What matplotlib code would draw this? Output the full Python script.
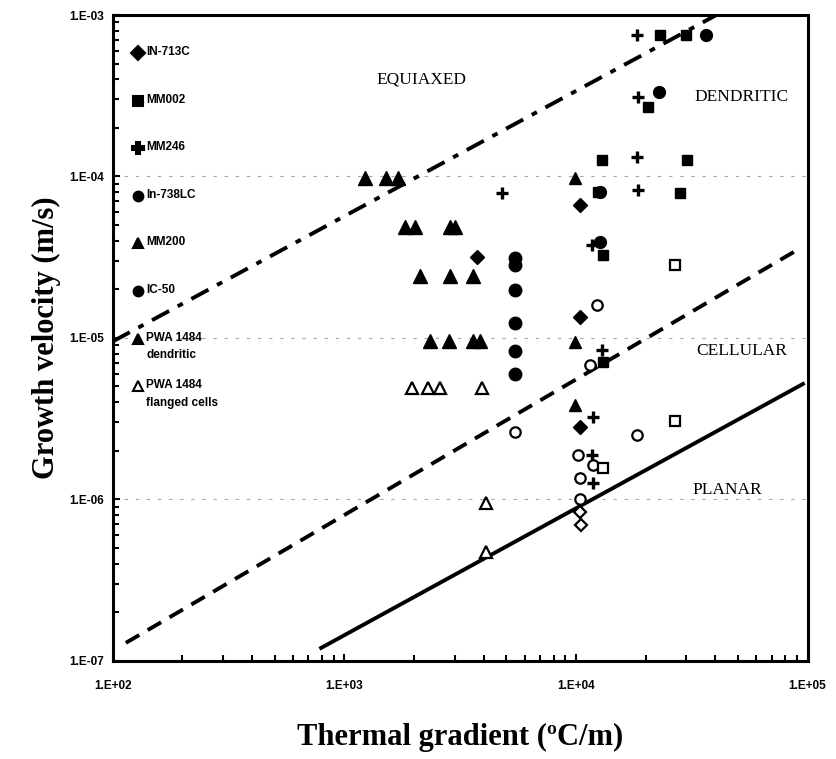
import numpy as np
import matplotlib.pyplot as plt
from matplotlib.ticker import LogLocator, FixedLocator, NullFormatter

# ---- data (G in C/m, V in m/s) ----
in713c_g = [3740, 1.04e4, 1.04e4, 1.04e4]
in713c_v = [3.17e-5, 6.65e-5, 1.35e-5, 2.80e-6]

mm002_g = [2.31e4, 2.99e4, 2.05e4, 1.30e4, 3.02e4, 1.25e4, 2.81e4, 1.31e4, 1.31e4]
mm002_v = [7.5e-4, 7.5e-4, 2.7e-4, 1.26e-4, 1.26e-4, 8.0e-5, 7.9e-5, 3.26e-5, 7.1e-6]

mm246_g = [1.84e4, 1.85e4, 1.84e4, 1.85e4, 4800, 1.17e4, 1.30e4, 1.19e4, 1.17e4, 1.19e4]
mm246_v = [7.5e-4, 3.1e-4, 1.32e-4, 8.2e-5, 7.9e-5, 3.76e-5, 8.4e-6, 3.23e-6, 1.88e-6, 1.26e-6]

in738_g = [3.65e4, 2.28e4, 1.27e4, 1.27e4]
in738_v = [7.5e-4, 3.33e-4, 3.92e-5, 8.0e-5]

mm200_g = [9.9e3, 9.9e3, 9.9e3]
mm200_v = [9.8e-5, 9.4e-6, 3.84e-6]

ic50_g = [5460, 5460, 5460, 5460, 5460, 5460]
ic50_v = [3.12e-5, 2.83e-5, 1.98e-5, 1.24e-5, 8.3e-6, 6.0e-6]

pwa_den_g = [1230, 1510, 1710, 1830, 2020, 2860, 3010, 2125, 2860, 3600, 2340, 2830, 3600, 3860]
pwa_den_v = [9.8e-5, 9.8e-5, 9.8e-5, 4.86e-5, 4.86e-5, 4.86e-5, 4.86e-5,
             2.42e-5, 2.42e-5, 2.42e-5, 9.55e-6, 9.55e-6, 9.55e-6, 9.55e-6]

pwa_cell_g = [1960, 2300, 2590, 3930, 4090, 4090]
pwa_cell_v = [4.9e-6, 4.9e-6, 4.9e-6, 4.9e-6, 9.5e-7, 4.7e-7]

# open symbols without legend entry
open_circ_g = [5460, 1.23e4, 1.15e4, 1.84e4, 1.02e4, 1.19e4, 1.04e4, 1.04e4]
open_circ_v = [2.6e-6, 1.6e-5, 6.8e-6, 2.5e-6, 1.88e-6, 1.63e-6, 1.35e-6, 1.0e-6]
open_sq_g = [2.68e4, 2.68e4, 1.31e4]
open_sq_v = [2.83e-5, 3.05e-6, 1.56e-6]
open_dia_g = [1.04e4, 1.05e4]
open_dia_v = [8.3e-7, 6.9e-7]

# boundary lines (end points)
equiax_g = [100, 5e4]
equiax_v = [9.5e-6, 1.18e-3]
cell_g = [114, 9.16e4]
cell_v = [1.29e-7, 3.55e-5]
planar_g = [794, 9.55e4]
planar_v = [1.2e-7, 5.18e-6]

xticks = [1e2, 1e3, 1e4, 1e5]
xtick_labels = ["1.E+02", "1.E+03", "1.E+04", "1.E+05"]
yticks = [1e-7, 1e-6, 1e-5, 1e-4, 1e-3]
ytick_labels = ["1.E-07", "1.E-06", "1.E-05", "1.E-04", "1.E-03"]

legend_items = [
    ("D", "k", "IN-713C"),
    ("s", "k", "MM002"),
    ("P", "k", "MM246"),
    ("o", "k", "In-738LC"),
    ("^", "k", "MM200"),
    ("o", "k", "IC-50"),
    ("^", "k", "PWA 1484\ndendritic"),
    ("^", "w", "PWA 1484\nflanged cells"),
]

fig = plt.figure(figsize=(8.36, 7.59), dpi=100)
ax = fig.add_axes([0.1348, 0.1295, 0.8312, 0.8507])
ax.set_xscale("log")
ax.set_yscale("log")
ax.set_xlim(1e2, 1e5)
ax.set_ylim(1e-7, 1e-3)

# faint dotted grid at the inner decades
for yv in yticks[1:-1]:
    ax.axhline(yv, color="0.65", lw=0.8, ls=(0, (3, 7)), zorder=0)

ax.plot(equiax_g, equiax_v, color="k", lw=2.8, ls=(0, (5, 2.5, 1.5, 2.5)))
ax.plot(cell_g, cell_v, color="k", lw=2.8, ls=(0, (4, 2.5)))
ax.plot(planar_g, planar_v, color="k", lw=2.8, ls="-")

fill = dict(ls="none", color="k", mec="k")
ax.plot(in713c_g, in713c_v, marker="D", ms=7, **fill)
ax.plot(mm002_g, mm002_v, marker="s", ms=7.5, **fill)
ax.plot(mm246_g, mm246_v, marker="+", ms=9, mew=2.4, ls="none", color="k")
ax.plot(in738_g, in738_v, marker="o", ms=8.5, **fill)
ax.plot(mm200_g, mm200_v, marker="^", ms=9, **fill)
ax.plot(ic50_g, ic50_v, marker="o", ms=9, **fill)
ax.plot(pwa_den_g, pwa_den_v, marker="^", ms=10.5, **fill)

hollow = dict(ls="none", mfc="white", mec="k", mew=1.6)
ax.plot(pwa_cell_g, pwa_cell_v, marker="^", ms=8, **hollow)
ax.plot(open_circ_g, open_circ_v, marker="o", ms=7.5, **hollow)
ax.plot(open_sq_g, open_sq_v, marker="s", ms=7, **hollow)
ax.plot(open_dia_g, open_dia_v, marker="D", ms=6.5, **hollow)

# legend drawn inside the upper-left corner
for i, (mk, fc, lab) in enumerate(legend_items):
    y = 0.941 - i * 0.0737
    ax.plot([0.036], [y], marker=mk, ms=7 if mk != "P" else 8, mfc=fc, mec="k",
            mew=1.5, ls="none", transform=ax.transAxes, clip_on=False)
    ax.text(0.048, y + 0.011, lab, transform=ax.transAxes, fontsize=8.5,
            fontweight="bold", family="Liberation Sans", va="top", ha="left",
            linespacing=1.6)

# region labels
serif = "Liberation Serif"
ax.text(0.445, 0.90, "EQUIAXED", transform=ax.transAxes, family=serif, fontsize=12.5,
        ha="center", va="center")
ax.text(0.905, 0.873, "DENDRITIC", transform=ax.transAxes, family=serif, fontsize=12.5,
        ha="center", va="center")
ax.text(0.905, 0.479, "CELLULAR", transform=ax.transAxes, family=serif, fontsize=12.5,
        ha="center", va="center")
ax.text(0.885, 0.264, "PLANAR", transform=ax.transAxes, family=serif, fontsize=12.5,
        ha="center", va="center")

ax.xaxis.set_major_locator(FixedLocator(xticks))
ax.set_xticklabels(xtick_labels)
ax.yaxis.set_major_locator(FixedLocator(yticks))
ax.set_yticklabels(ytick_labels)
ax.xaxis.set_minor_locator(LogLocator(base=10, subs=np.arange(2, 10)))
ax.yaxis.set_minor_locator(LogLocator(base=10, subs=np.arange(2, 10)))
ax.xaxis.set_minor_formatter(NullFormatter())
ax.yaxis.set_minor_formatter(NullFormatter())
ax.tick_params(which="both", direction="in", width=1.5, top=False, right=False)
ax.tick_params(which="major", length=5, labelsize=8.5, pad=14)
ax.tick_params(which="minor", length=4)
ax.tick_params(axis="y", which="major", pad=6)
for t in ax.get_xticklabels() + ax.get_yticklabels():
    t.set_fontweight("bold")
    t.set_family("Liberation Sans")
for s in ax.spines.values():
    s.set_linewidth(2.2)

ax.set_xlabel("Thermal gradient (ºC/m)", family=serif, fontsize=22, fontweight="bold",
              labelpad=22)
ax.set_ylabel("Growth velocity (m/s)", family=serif, fontsize=22, fontweight="bold",
              labelpad=6)

fig.savefig("out.png", dpi=100)
